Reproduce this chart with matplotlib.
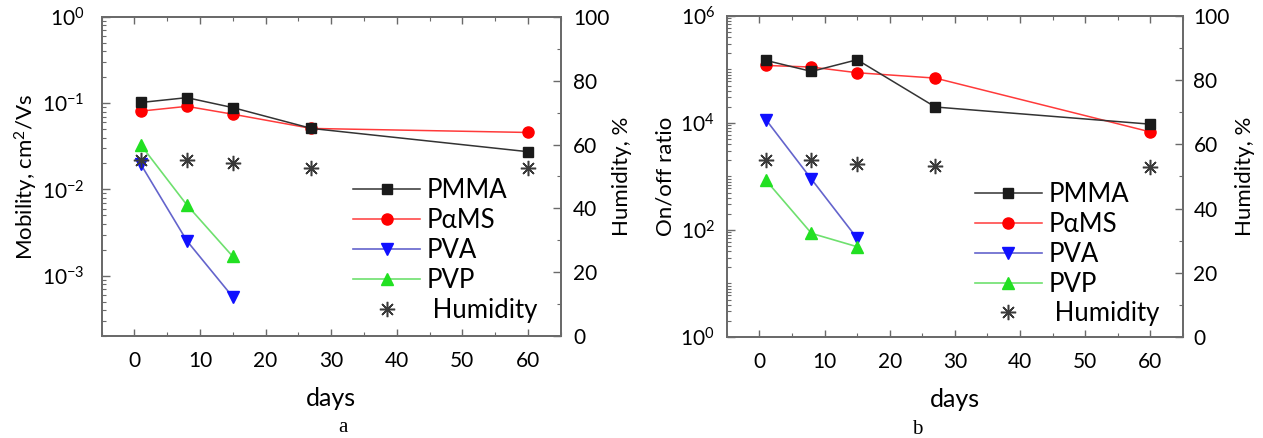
import matplotlib
matplotlib.use('Agg')
import matplotlib.pyplot as plt
from matplotlib.ticker import LogLocator, MultipleLocator, FixedLocator, FuncFormatter, NullFormatter
import numpy as np

# ---------------- data ----------------
days = [1, 8, 15, 27, 60]
days_short = [1, 8, 15]
x_ticks = [0, 10, 20, 30, 40, 50, 60]
hum_ticks = [0, 20, 40, 60, 80, 100]

# panel a: mobility, cm^2/Vs
mob_pmma = [0.102, 0.116, 0.089, 0.051, 0.0274]
mob_pams = [0.081, 0.092, 0.0746, 0.051, 0.0458]
mob_pva = [0.0195, 0.00254, 0.000567]
mob_pvp = [0.0327, 0.00662, 0.00167]
hum_a = [55.3, 55.1, 54.1, 52.7, 52.7]
mob_ticks = [1e-3, 1e-2, 1e-1, 1e0]

# panel b: on/off ratio
onoff_pmma = [1.48e5, 9.2e4, 1.52e5, 1.99e4, 9.5e3]
onoff_pams = [1.19e5, 1.11e5, 8.7e4, 6.9e4, 6.8e3]
onoff_pva = [1.16e4, 890, 70]
onoff_pvp = [853, 86.5, 48.7]
hum_b = [55.0, 55.0, 54.0, 53.2, 53.0]
onoff_ticks = [1e0, 1e2, 1e4, 1e6]

labels = ['PMMA', 'P\u03b1MS', 'PVA', 'PVP', ' Humidity']

# ---------------- style ----------------
plt.rcParams['font.family'] = ['Lato', 'DejaVu Sans']
plt.rcParams['mathtext.fontset'] = 'custom'
plt.rcParams['mathtext.rm'] = 'Lato'
plt.rcParams['mathtext.it'] = 'Lato:italic'
plt.rcParams['mathtext.default'] = 'regular'

SPINE = '#6a6a6a'
styles = {
    'PMMA': dict(color='#333333', marker='s', mfc='#1a1a1a', mec='#1a1a1a', ms=6.5),
    'PaMS': dict(color='#ff3a3a', marker='o', mfc='#ff0000', mec='#ff0000', ms=8),
    'PVA': dict(color='#6464cc', marker='v', mfc='#1010ff', mec='#1010ff', ms=8.5),
    'PVP': dict(color='#6ee06e', marker='^', mfc='#22e022', mec='#22e022', ms=8.5),
}

fig = plt.figure(figsize=(12.63, 4.38), dpi=100)


def log_fmt(v, pos):
    return r'$10^{%d}$' % int(round(np.log10(v)))


def panel(rect, ylim, yticks, series, hum, ylabel, left_pad, right_pad,
          ylabel_x, hlabel_x, leg_xy, tag, tag_xy):
    ax = fig.add_axes(rect)
    ax.set_yscale('log')
    pm, pa, pv, pp = series
    ax.plot(days, pm, lw=1.1, label=labels[0], **styles['PMMA'], zorder=4)
    ax.plot(days, pa, lw=1.1, label=labels[1], **styles['PaMS'], zorder=3)
    ax.plot(days_short, pv, lw=1.2, label=labels[2], **styles['PVA'], zorder=3)
    ax.plot(days_short, pp, lw=1.2, label=labels[3], **styles['PVP'], zorder=3)
    ax.set_xlim(-5, 65)
    ax.set_ylim(*ylim)
    ax.yaxis.set_major_locator(FixedLocator(yticks))
    ax.yaxis.set_major_formatter(FuncFormatter(log_fmt))
    ax.yaxis.set_minor_locator(LogLocator(base=10, subs=np.arange(1, 10), numticks=40))
    ax.yaxis.set_minor_formatter(NullFormatter())
    ax.xaxis.set_major_locator(FixedLocator(x_ticks))
    ax.xaxis.set_minor_locator(MultipleLocator(5))
    ax.tick_params(axis='y', which='both', direction='in', left=True, right=False,
                   colors=SPINE, labelcolor='black', labelsize=15, pad=left_pad)
    ax.tick_params(axis='y', which='major', length=6, width=1)
    ax.tick_params(axis='y', which='minor', length=3, width=0.8)
    ax.tick_params(axis='x', which='both', direction='in', top=True, bottom=True,
                   colors=SPINE, labelcolor='black', labelsize=15, pad=11)
    ax.tick_params(axis='x', which='major', length=5, width=1)
    ax.tick_params(axis='x', which='minor', length=3, width=0.8)
    for s in ax.spines.values():
        s.set_color(SPINE)
        s.set_linewidth(1.3)
    ax.set_xlabel('days', fontsize=18, labelpad=11)
    ax.set_ylabel(ylabel, fontsize=16)
    ax.yaxis.set_label_coords(ylabel_x, 0.5)

    ax2 = ax.twinx()
    ax2.set_ylim(0, 100)
    ax2.plot(days, hum, ls='none', marker=(8, 2, 0), ms=11, mew=1.1,
             color='#3a3a3a', label=labels[4])
    ax2.yaxis.set_major_locator(FixedLocator(hum_ticks))
    ax2.yaxis.set_minor_locator(MultipleLocator(10))
    ax2.tick_params(axis='y', which='both', direction='in', colors=SPINE,
                    labelcolor='black', labelsize=15, pad=right_pad)
    ax2.tick_params(axis='y', which='major', length=6, width=1)
    ax2.tick_params(axis='y', which='minor', length=3, width=0.8)
    for s in ax2.spines.values():
        s.set_color(SPINE)
        s.set_linewidth(1.3)
    ax2.set_ylabel('Humidity, %', fontsize=16)
    ax2.yaxis.set_label_coords(hlabel_x, 0.5)

    h1, l1 = ax.get_legend_handles_labels()
    h2, l2 = ax2.get_legend_handles_labels()
    ax2.legend(h1 + h2, l1 + l2, loc='upper left', bbox_to_anchor=leg_xy,
               frameon=False, fontsize=18.5, borderpad=0, borderaxespad=0,
               handlelength=2.6, handletextpad=0.25, labelspacing=0.19)
    fig.text(tag_xy[0], tag_xy[1], tag, fontsize=15, family='Liberation Serif',
             ha='center', va='center')
    return ax, ax2


panel([0.0804, 0.233, 0.3636, 0.7282], (2e-4, 1), mob_ticks,
      (mob_pmma, mob_pams, mob_pva, mob_pvp), hum_a,
      'Mobility, cm$^2$/Vs', 12, 9, -0.134, 1.111, (0.548, 0.494),
      'a', (343 / 1263, 1 - 428 / 438))

panel([0.5754, 0.2306, 0.3613, 0.7329], (1, 1e6), onoff_ticks,
      (onoff_pmma, onoff_pams, onoff_pva, onoff_pvp), hum_b,
      'On/off ratio', 8.5, 7.5, -0.113, 1.114, (0.544, 0.483),
      'b', (917 / 1263, 1 - 430 / 438))

fig.savefig('out.png', dpi=100)
